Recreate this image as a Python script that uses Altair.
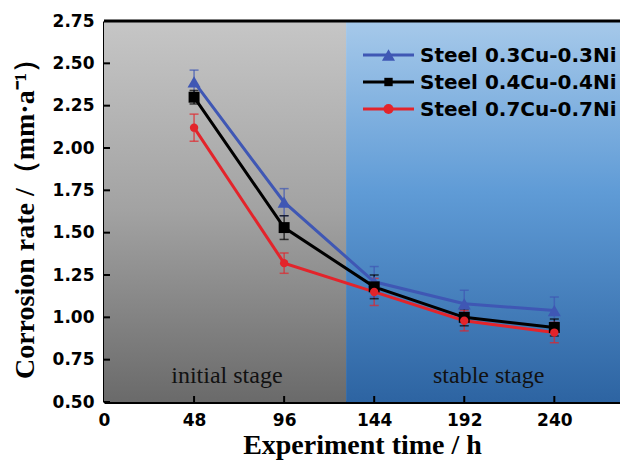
import altair as alt
import pandas as pd

# ---- data ----
times = [48, 96, 144, 192, 240]
series = ["Steel 0.3Cu-0.3Ni", "Steel 0.4Cu-0.4Ni", "Steel 0.7Cu-0.7Ni"]
rate_03 = [2.39, 1.68, 1.21, 1.08, 1.04]
err_03 = [0.07, 0.08, 0.09, 0.08, 0.08]
rate_04 = [2.30, 1.53, 1.18, 1.00, 0.94]
err_04 = [0.04, 0.07, 0.07, 0.05, 0.05]
rate_07 = [2.12, 1.32, 1.15, 0.98, 0.91]
err_07 = [0.08, 0.06, 0.08, 0.06, 0.06]

colors = ["#3f57b4", "#000000", "#e3242b"]
shapes = ["triangle-up", "square", "circle"]
sizes = [170, 70, 100]

x_ticks = [0, 48, 96, 144, 192, 240]
y_ticks = [0.50, 0.75, 1.00, 1.25, 1.50, 1.75, 2.00, 2.25, 2.50, 2.75]
x_domain = [0, 275]
y_domain = [0.5, 2.75]

stage_names = ["initial stage", "stable stage"]
stage_start = [0, 129]
stage_end = [129, 275]
stage_label_x = [65.5, 205]
stage_label_y = [0.61, 0.61]

W, H = 516, 381

rows = []
for s, r, e in zip(series, [rate_03, rate_04, rate_07], [err_03, err_04, err_07]):
    for t, v, d in zip(times, r, e):
        rows.append({"series": s, "time": t, "rate": v, "lo": v - d, "hi": v + d})
df = pd.DataFrame(rows)

xs = alt.Scale(domain=x_domain, nice=False, zero=False)
ys = alt.Scale(domain=y_domain, nice=False, zero=False)
cscale = alt.Scale(domain=series, range=colors)
sscale = alt.Scale(domain=series, range=shapes)
zscale = alt.Scale(domain=series, range=sizes)

def grad(stops):
    return alt.Gradient(
        gradient="linear",
        stops=[alt.GradientStop(color=c, offset=o) for o, c in stops],
        x1=0, x2=0, y1=0, y2=1,
    )

bg_df = pd.DataFrame({"stage": stage_names, "x0": stage_start, "x1": stage_end})
gray_bg = alt.Chart(bg_df.iloc[[0]]).mark_rect(
    fill=grad([(0, "#c6c6c6"), (0.5, "#a2a2a2"), (1, "#6a6a6a")])
).encode(
    x=alt.X("x0:Q", scale=xs, axis=alt.Axis(
        values=x_ticks, title="Experiment time / h", grid=False,
        tickSize=0, labelPadding=10, labelFlush=False,
        domainColor="black", domainWidth=3,
        labelFont="DejaVu Sans", labelFontWeight="bold", labelFontSize=17,
        labelColor="black",
        titleFont="Liberation Serif", titleFontWeight="bold", titleFontSize=28,
        titleColor="black", titlePadding=3)),
    x2="x1:Q",
    y=alt.value(0), y2=alt.value(H),
)
blue_bg = alt.Chart(bg_df.iloc[[1]]).mark_rect(
    fill=grad([(0, "#a6c9ea"), (0.45, "#5f9bd6"), (1, "#2d64a2")])
).encode(
    x=alt.X("x0:Q", scale=xs), x2="x1:Q",
    y=alt.value(0), y2=alt.value(H),
)

yaxis = alt.Axis(
    values=y_ticks, format=".2f", title="Corrosion rate /（mm·a⁻¹）", grid=False,
    tickSize=0, labelPadding=10, labelFlush=False,
    domainColor="black", domainWidth=3,
    labelFont="DejaVu Sans", labelFontWeight="bold", labelFontSize=17,
    labelColor="black",
    titleFont="Liberation Serif", titleFontWeight="bold", titleFontSize=28,
    titleColor="black", titlePadding=13)

err = alt.Chart(df).mark_rule(strokeWidth=1.5, opacity=0.7).encode(
    x=alt.X("time:Q", scale=xs),
    y=alt.Y("lo:Q", scale=ys, axis=yaxis),
    y2="hi:Q",
    color=alt.Color("series:N", scale=cscale, legend=None),
)
cap_lo = alt.Chart(df).mark_tick(orient="horizontal", size=9, thickness=1.5, opacity=0.7).encode(
    x=alt.X("time:Q", scale=xs), y=alt.Y("lo:Q", scale=ys),
    color=alt.Color("series:N", scale=cscale, legend=None),
)
cap_hi = alt.Chart(df).mark_tick(orient="horizontal", size=9, thickness=1.5, opacity=0.7).encode(
    x=alt.X("time:Q", scale=xs), y=alt.Y("hi:Q", scale=ys),
    color=alt.Color("series:N", scale=cscale, legend=None),
)
lines = alt.Chart(df).mark_line(strokeWidth=3).encode(
    x=alt.X("time:Q", scale=xs), y=alt.Y("rate:Q", scale=ys),
    color=alt.Color("series:N", scale=cscale, legend=None),
    detail="series:N",
)
pts = alt.Chart(df).mark_point(filled=True, opacity=1).encode(
    x=alt.X("time:Q", scale=xs), y=alt.Y("rate:Q", scale=ys),
    color=alt.Color("series:N", scale=cscale, legend=None),
    shape=alt.Shape("series:N", scale=sscale, legend=None),
    size=alt.Size("series:N", scale=zscale, legend=None),
)

stage_df = pd.DataFrame({"name": stage_names, "x": stage_label_x, "y": stage_label_y})
stage_txt = alt.Chart(stage_df).mark_text(
    font="Liberation Serif", fontSize=24, color="#111111", baseline="alphabetic", align="center"
).encode(x=alt.X("x:Q", scale=xs), y=alt.Y("y:Q", scale=ys), text="name:N")

# inward ticks and top frame
xt = alt.Chart(pd.DataFrame({"t": x_ticks[1:]})).mark_rule(strokeWidth=2, color="black").encode(
    x=alt.X("t:Q", scale=xs), y=alt.value(H), y2=alt.value(H - 6))
yt = alt.Chart(pd.DataFrame({"v": y_ticks})).mark_rule(strokeWidth=2, color="black").encode(
    y=alt.Y("v:Q", scale=ys), x=alt.value(0), x2=alt.value(6))
top = alt.Chart(pd.DataFrame({"a": [0]})).mark_rule(strokeWidth=3, color="black").encode(
    x=alt.value(0), x2=alt.value(W), y=alt.value(0))

# manual legend (layout constants)
leg_layers = []
leg_y = [34, 61, 88]
for i, s in enumerate(series):
    one = pd.DataFrame({"series": [s]})
    leg_layers.append(alt.Chart(one).mark_rule(strokeWidth=3, color=colors[i]).encode(
        x=alt.value(259), x2=alt.value(310), y=alt.value(leg_y[i])))
    leg_layers.append(alt.Chart(one).mark_point(
        filled=True, opacity=1, shape=shapes[i], size=sizes[i], color=colors[i]).encode(
        x=alt.value(284.5), y=alt.value(leg_y[i])))
    leg_layers.append(alt.Chart(one).mark_text(
        font="DejaVu Sans", fontWeight="bold", fontSize=20, color="black",
        align="left", baseline="middle").encode(
        x=alt.value(316), y=alt.value(leg_y[i] + 1), text="series:N"))

chart = alt.layer(
    gray_bg, blue_bg, stage_txt, err, cap_lo, cap_hi, lines, pts, xt, yt, top, *leg_layers
).properties(
    width=W, height=H,
    autosize=alt.AutoSizeParams(type="none"),
    padding={"left": 104, "top": 21, "right": 0, "bottom": 59},
).configure_view(stroke=None)

chart.save("out.html", embed_options={"renderer": "svg", "actions": False})
